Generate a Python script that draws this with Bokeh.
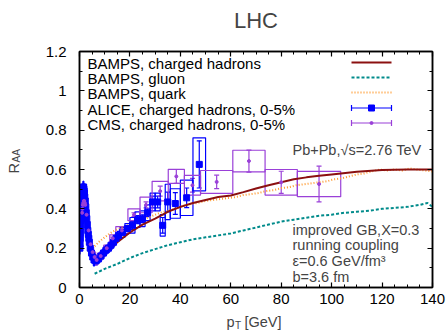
from bokeh.plotting import figure
from bokeh.models import (Range1d, LinearAxis, Label, Whisker, TeeHead,
                          ColumnDataSource, FixedTicker)
from bokeh.embed import file_html
from bokeh.resources import INLINE

# ---------------- data ----------------
bamps_ch_pt = [6, 8, 10, 12, 15, 20, 25, 30, 35, 40, 45, 50, 55, 60, 65, 70, 75, 80,
               85, 90, 95, 100, 110, 120, 130, 140]
bamps_ch_raa = [0.125, 0.15, 0.17, 0.195, 0.23, 0.28, 0.32, 0.35, 0.385, 0.41, 0.43,
                0.445, 0.46, 0.468, 0.485, 0.503, 0.52, 0.535, 0.55, 0.56, 0.568,
                0.575, 0.588, 0.597, 0.60, 0.60]

bamps_g_pt = [6, 10, 15, 20, 25, 30, 35, 40, 45, 50, 55, 60, 65, 70, 75, 80, 85, 90,
              95, 100, 105, 110, 115, 120, 125, 130, 135, 138, 140]
bamps_g_raa = [0.07, 0.095, 0.12, 0.15, 0.175, 0.195, 0.215, 0.23, 0.245, 0.255, 0.265,
               0.275, 0.29, 0.305, 0.32, 0.335, 0.345, 0.355, 0.365, 0.37, 0.38, 0.385,
               0.39, 0.40, 0.405, 0.41, 0.42, 0.43, 0.41]

bamps_q_pt = [6, 8, 10, 12, 14, 16, 18, 20, 23, 26, 29, 32, 35, 38, 41, 44, 47, 50, 53,
              56, 59, 62, 65, 68, 71, 74, 77, 80, 83, 86, 89, 92, 95, 98, 101, 104, 107,
              110, 113, 116, 119, 122, 125, 128, 131, 134, 137, 140]
bamps_q_raa = [0.21, 0.235, 0.255, 0.275, 0.29, 0.30, 0.31, 0.32, 0.335, 0.35, 0.365,
               0.38, 0.39, 0.40, 0.415, 0.425, 0.43, 0.44, 0.445, 0.45, 0.455, 0.46,
               0.47, 0.475, 0.48, 0.49, 0.495, 0.505, 0.51, 0.52, 0.525, 0.53, 0.535,
               0.54, 0.55, 0.555, 0.565, 0.575, 0.58, 0.59, 0.60, 0.595, 0.60, 0.595,
               0.605, 0.60, 0.595, 0.59]

alice_lo = [0.15, 0.2, 0.3, 0.4, 0.5, 0.6, 0.7, 0.8, 0.9, 1.0, 1.1, 1.2, 1.3, 1.4, 1.5,
            1.6, 1.7, 1.8, 1.9, 2.0, 2.2, 2.4, 2.6, 2.8, 3.0, 3.2, 3.4, 3.6, 3.8, 4.0,
            4.5, 5.0, 5.5, 6, 7, 8, 9, 10, 11, 12, 13, 14, 15, 16, 18, 20, 22, 24, 26,
            28, 30, 32, 34, 36, 40, 45]
alice_hi = [0.2, 0.3, 0.4, 0.5, 0.6, 0.7, 0.8, 0.9, 1.0, 1.1, 1.2, 1.3, 1.4, 1.5, 1.6,
            1.7, 1.8, 1.9, 2.0, 2.2, 2.4, 2.6, 2.8, 3.0, 3.2, 3.4, 3.6, 3.8, 4.0, 4.5,
            5.0, 5.5, 6.0, 7, 8, 9, 10, 11, 12, 13, 14, 15, 16, 18, 20, 22, 24, 26, 28,
            30, 32, 34, 36, 40, 45, 50]
alice_raa = [0.20, 0.22, 0.25, 0.28, 0.31, 0.34, 0.37, 0.40, 0.43, 0.45, 0.47, 0.49,
             0.50, 0.51, 0.51, 0.51, 0.50, 0.49, 0.48, 0.46, 0.44, 0.41, 0.38, 0.35,
             0.32, 0.29, 0.27, 0.25, 0.23, 0.20, 0.175, 0.155, 0.14, 0.135, 0.145, 0.16,
             0.175, 0.19, 0.20, 0.215, 0.23, 0.25, 0.265, 0.28, 0.30, 0.316, 0.345,
             0.35, 0.38, 0.435, 0.435, 0.316, 0.435, 0.427, 0.456, 0.626]
alice_stat = [0.003] * 33 + [0.005] * 10 + [0.01, 0.01, 0.02, 0.02, 0.02, 0.02, 0.03,
                                            0.03, 0.04, 0.05, 0.055, 0.05, 0.12]
alice_sys = [0.03] * 33 + [0.02] * 10 + [0.025, 0.025, 0.04, 0.04, 0.04, 0.04, 0.045,
                                         0.045, 0.055, 0.09, 0.075, 0.09, 0.135]

cms_lo = [1.0, 1.1, 1.2, 1.4, 1.6, 1.8, 2.0, 2.2, 2.4, 3.2, 4.0, 4.8, 5.6, 6.4, 7.2, 9.6,
          12.0, 14.4, 19.2, 24.0, 28.8, 35.2, 41.6, 48.0, 60.8, 73.6, 86.4]
cms_hi = [1.1, 1.2, 1.4, 1.6, 1.8, 2.0, 2.2, 2.4, 3.2, 4.0, 4.8, 5.6, 6.4, 7.2, 9.6, 12.0,
          14.4, 19.2, 24.0, 28.8, 35.2, 41.6, 48.0, 60.8, 73.6, 86.4, 103.6]
cms_raa = [0.38, 0.40, 0.42, 0.43, 0.44, 0.44, 0.43, 0.42, 0.37, 0.29, 0.22, 0.18, 0.155,
           0.14, 0.16, 0.20, 0.25, 0.29, 0.37, 0.42, 0.49, 0.565, 0.52, 0.537, 0.643,
           0.535, 0.526]
cms_stat = [0.003] * 14 + [0.004, 0.005, 0.006, 0.008, 0.01, 0.015, 0.025, 0.035, 0.035,
                           0.034, 0.056, 0.056, 0.091]
cms_sys = [0.025] * 14 + [0.015, 0.015, 0.018, 0.02, 0.03, 0.04, 0.05, 0.036, 0.05,
                          0.058, 0.055, 0.065, 0.064]

legend_labels = ["BAMPS, charged hadrons", "BAMPS, gluon", "BAMPS, quark",
                 "ALICE, charged hadrons, 0-5%", "CMS, charged hadrons, 0-5%"]
info_lines = ["improved GB,X=0.3", "running coupling", "\u03b5=0.6 GeV/fm\u00b3", "b=3.6 fm"]
system_label = "Pb+Pb,\u221as=2.76 TeV"

# ---------------- style ----------------
FONT = "Liberation Sans"
C_RED = "#8b1010"
C_TEAL = "#008b8b"
C_ORANGE = "#ff9a30"
C_BLUE = "#0000ff"
C_PURPLE = "#9a40d8"

W, H = 447, 332
FL, FR, FT, FB = 79, 432, 51, 287  # frame edges in pixels
XMIN, XMAX, YMIN, YMAX = 0, 140, 0, 1.2


def dx(px):
    return XMIN + (px - FL) * (XMAX - XMIN) / (FR - FL)


def dy(py):
    return YMIN + (FB - py) * (YMAX - YMIN) / (FB - FT)


p = figure(width=W, height=H, output_backend="svg", toolbar_location=None,
           x_range=Range1d(XMIN, XMAX), y_range=Range1d(YMIN, YMAX),
           min_border_left=FL, min_border_right=W - FR, min_border_top=FT,
           min_border_bottom=H - FB, x_axis_location=None, y_axis_location=None)
p.background_fill_color = "white"
p.border_fill_color = "white"
p.outline_line_color = "black"
p.outline_line_width = 1.5
p.xgrid.visible = False
p.ygrid.visible = False

xt = FixedTicker(ticks=[0, 20, 40, 60, 80, 100, 120, 140],
                 minor_ticks=[v * 5 for v in range(29)])
yt = FixedTicker(ticks=[0, 0.2, 0.4, 0.6, 0.8, 1.0, 1.2],
                 minor_ticks=[v / 10 for v in range(13)])


def make_axis(ticker, show_labels):
    ax = LinearAxis(ticker=ticker)
    ax.major_tick_in = 5
    ax.major_tick_out = 0
    ax.minor_tick_in = 3
    ax.minor_tick_out = 0
    ax.axis_line_width = 1.5
    ax.major_tick_line_width = 1.2
    ax.minor_tick_line_width = 1
    ax.major_label_text_font = FONT
    ax.major_label_text_font_size = "15px" if show_labels else "0px"
    ax.major_label_text_color = "black" if show_labels else None
    if not show_labels:
        ax.major_label_standoff = 0
    return ax


bx = make_axis(xt, True)
bx.major_label_standoff = 6
ly = make_axis(yt, True)
ly.major_label_standoff = 13
p.add_layout(bx, "below")
p.add_layout(ly, "left")
p.add_layout(make_axis(xt, False), "above")
p.add_layout(make_axis(yt, False), "right")

# ---------------- data: systematic boxes ----------------
def box_source(lo, hi, raa, sys_, stat):
    return ColumnDataSource(dict(
        left=lo, right=hi, bottom=[r - s for r, s in zip(raa, sys_)],
        top=[r + s for r, s in zip(raa, sys_)],
        x=[(a + b) / 2 for a, b in zip(lo, hi)], y=raa,
        upper=[r + s for r, s in zip(raa, stat)],
        lower=[r - s for r, s in zip(raa, stat)]))


src_a = box_source(alice_lo, alice_hi, alice_raa, alice_sys, alice_stat)
src_c = box_source(cms_lo, cms_hi, cms_raa, cms_sys, cms_stat)

p.quad(left="left", right="right", bottom="bottom", top="top", source=src_a,
       fill_color=None, line_color=C_BLUE, line_width=1.2)
p.quad(left="left", right="right", bottom="bottom", top="top", source=src_c,
       fill_color=None, line_color=C_PURPLE, line_width=1.2)

# ---------------- theory curves ----------------
p.line(bamps_g_pt, bamps_g_raa, line_color=C_TEAL, line_width=2, line_dash="3 2")
p.line(bamps_q_pt, bamps_q_raa, line_color=C_ORANGE, line_width=2, line_dash="1 2")
p.line(bamps_ch_pt, bamps_ch_raa, line_color=C_RED, line_width=2)

# ---------------- error bars and markers ----------------
p.add_layout(Whisker(source=src_a, base="x", upper="upper", lower="lower",
                     line_color=C_BLUE, line_width=1.2,
                     upper_head=TeeHead(size=5, line_color=C_BLUE, line_width=1.2),
                     lower_head=TeeHead(size=5, line_color=C_BLUE, line_width=1.2)))
p.add_layout(Whisker(source=src_c, base="x", upper="upper", lower="lower",
                     line_color=C_PURPLE, line_width=1.2,
                     upper_head=TeeHead(size=5, line_color=C_PURPLE, line_width=1.2),
                     lower_head=TeeHead(size=5, line_color=C_PURPLE, line_width=1.2)))
p.scatter("x", "y", source=src_a, marker="square", size=6, fill_color=C_BLUE,
          line_color=C_BLUE)
p.scatter("x", "y", source=src_c, marker="circle", size=3, fill_color=C_PURPLE,
          line_color=C_PURPLE)

# ---------------- legend (manual, labels left, keys right) ----------------
row_py = [62, 77, 92, 107.5, 122.5]
key_x0, key_x1 = dx(351), dx(391)
key_mid = (key_x0 + key_x1) / 2
for lab, py in zip(legend_labels, row_py):
    p.add_layout(Label(x=dx(87), y=dy(py + 1), text=lab, text_font=FONT,
                       text_font_size="15px", text_baseline="middle",
                       text_align="left", text_color="black"))
p.line([key_x0, key_x1], [dy(row_py[0])] * 2, line_color=C_RED, line_width=2)
p.line([key_x0, key_x1], [dy(row_py[1])] * 2, line_color=C_TEAL, line_width=2,
       line_dash="3 2")
p.line([key_x0, key_x1], [dy(row_py[2])] * 2, line_color=C_ORANGE, line_width=2,
       line_dash="1 2")
for py, col, mk, sz in [(row_py[3], C_BLUE, "square", 6), (row_py[4], C_PURPLE, "circle", 3)]:
    p.line([key_x0, key_x1], [dy(py)] * 2, line_color=col, line_width=1.2)
    p.segment([key_x0, key_x1], [dy(py - 3)] * 2, [key_x0, key_x1], [dy(py + 3)] * 2,
              line_color=col, line_width=1.2)
    p.scatter([key_mid], [dy(py)], marker=mk, size=sz, fill_color=col, line_color=col)

# ---------------- annotations ----------------
p.add_layout(Label(x=dx(292), y=dy(149), text=system_label, text_font=FONT,
                   text_font_size="14.5px", text_baseline="middle"))
for i, t in enumerate(info_lines):
    p.add_layout(Label(x=dx(292), y=dy(229 + 15.8 * i), text=t, text_font=FONT,
                       text_font_size="14.5px", text_baseline="middle"))

# texts outside the frame: placed in side panels (spread so the frame keeps its size)
p.add_layout(Label(x=dx(255.5), y=dy(20), text="LHC", text_font=FONT,
                   text_font_size="22px", text_align="center",
                   text_baseline="middle"), "above")
p.add_layout(Label(x=dx(244), y=dy(321), text="[GeV]", text_font=FONT,
                   text_font_size="14.5px", text_baseline="middle"), "above")
p.add_layout(Label(x=dx(226), y=dy(321), text="p", text_font=FONT,
                   text_font_size="14.5px", text_baseline="middle"), "below")
p.add_layout(Label(x=dx(234.5), y=dy(325), text="T", text_font=FONT,
                   text_font_size="10px", text_baseline="middle"), "left")
p.add_layout(Label(x=dx(13), y=dy(173), text="R", text_font=FONT,
                   text_font_size="14.5px", text_baseline="middle",
                   angle=1.5708), "left")
p.add_layout(Label(x=dx(16), y=dy(162), text="AA", text_font=FONT,
                   text_font_size="10px", text_baseline="middle",
                   angle=1.5708), "left")

open("out.html", "w").write(file_html(p, INLINE))
